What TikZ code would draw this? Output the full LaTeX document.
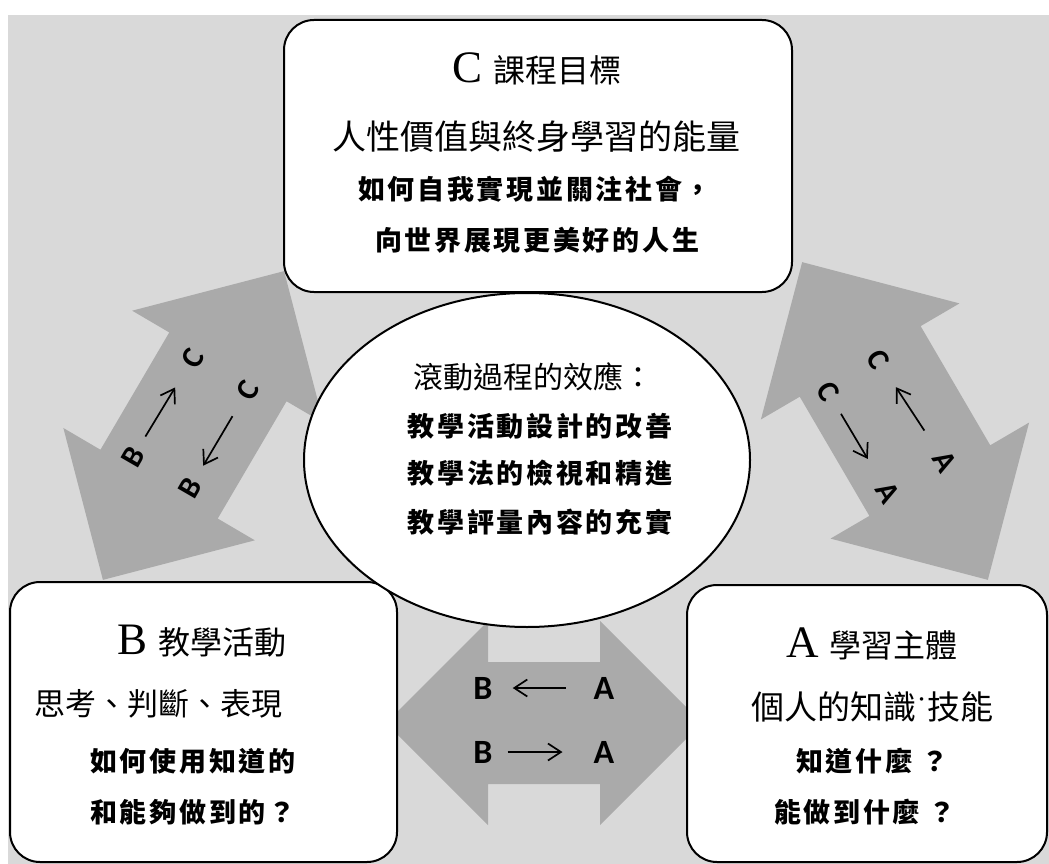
\documentclass[tikz,border=0pt]{standalone}
\usepackage{fontspec}
\usetikzlibrary{shapes.geometric,arrows.meta}
\setmainfont{Liberation Serif}
\newfontfamily\cjk{Noto Sans CJK TC}
\newfontfamily\cjkk[LetterSpace=10]{Noto Sans CJK TC}
\newfontfamily\sansb{Carlito}
\newfontfamily\dotfont{Liberation Serif}
\definecolor{bggray}{RGB}{217,217,217}
\definecolor{argray}{RGB}{170,170,170}
\newcommand\dblarrow[7]{%
  \fill[argray, shift={(#1,#2)}, rotate=#3]
    (-#4,0) -- (-#4+#5,#6) -- (-#4+#5,#7) -- (#4-#5,#7) -- (#4-#5,#6) -- (#4,0)
    -- (#4-#5,-#6) -- (#4-#5,-#7) -- (-#4+#5,-#7) -- (-#4+#5,-#6) -- cycle;}
\begin{document}
\begin{tikzpicture}[x=1pt,y=-1pt,
  box/.style={draw=black, line width=2pt, fill=white, rounded corners=30pt, inner sep=0pt},
  oval/.style={draw=black, line width=2pt, fill=white, ellipse, inner sep=0pt},
  ttl/.style={inner sep=0pt, anchor=base},
  lt/.style={inner sep=0pt, font=\sansb\bfseries\fontsize{34}{34}\selectfont},
  dlt/.style={inner sep=0pt, font=\sansb\bfseries\fontsize{31}{31}\selectfont},
  ln/.style={inner sep=0pt, font=\cjk\fontsize{33}{33}\selectfont},
  kai/.style={inner sep=0pt, font=\cjkk\bfseries\fontsize{27}{27}\selectfont},
  sa/.style={line width=1.7pt, -{Straight Barb[length=13pt,width=17pt]}}
]
\useasboundingbox (0,0) rectangle (1049,864);
\fill[bggray] (8,15) rectangle (1049,864);

% double arrows
\dblarrow{544}{723}{0}{158}{102}{102}{61}
\dblarrow{193.5}{425.5}{59.6}{179}{111}{111}{68}
\dblarrow{895}{421}{-59.7}{184}{115}{115}{70}

% boxes
\node[box, minimum width=508, minimum height=272] (C) at (538,156) {};
\node[box, minimum width=387, minimum height=280] (B) at (203.5,722) {};
\node[box, minimum width=360, minimum height=277] (A) at (867,723.5) {};
\node[oval, minimum width=446, minimum height=334] (E) at (527,460) {};

% C box text
\node[ttl] (Ct) at (537,83) {{\fontsize{45}{45}\selectfont C}\hspace{10pt}{\cjk\fontsize{32}{32}\selectfont 課程目標}};
\node[ln, font=\cjk\fontsize{34}{34}\selectfont] (C1) at (536,137) {人性價值與終身學習的能量};
\node[kai] (C2) at (535,189) {如何自我實現並關注社會，};
\node[kai] (C3) at (537,240) {向世界展現更美好的人生};

% ellipse text
\node[ln, font=\cjk\fontsize{30}{30}\selectfont] (E0) at (533,377) {滾動過程的效應：};
\node[kai] (E1) at (540,426) {教學活動設計的改善};
\node[kai] (E2) at (540,473) {教學法的檢視和精進};
\node[kai] (E3) at (540,522) {教學評量內容的充實};

% B box text
\node[ttl] (Bt) at (202,654) {{\fontsize{45}{45}\selectfont B}\hspace{10pt}{\cjk\fontsize{32}{32}\selectfont 教學活動}};
\node[ln, font=\cjk\fontsize{31}{31}\selectfont] (B1) at (158,704) {思考、判斷、表現};
\node[kai, anchor=west] (B2) at (90,761) {如何使用知道的};
\node[kai, anchor=west] (B3) at (90,812) {和能夠做到的？};

% A box text
\node[ln] (A1) at (872,707) {個人的知識{\dotfont ˙}技能};
\node[ttl] (At) at (872,657) {{\fontsize{45}{45}\selectfont A}\hspace{10pt}{\cjk\fontsize{32}{32}\selectfont 學習主體}};
\node[kai] (A2) at (872,761) {知道什麼 ？};
\node[kai] (A3) at (865,812) {能做到什麼 ？};

% horizontal arrow letters
\node[lt] (hb1) at (483,688) {B};
\node[lt] (ha1) at (604,688) {A};
\node[lt] (hb2) at (483,752) {B};
\node[lt] (ha2) at (604,752) {A};
\draw[sa, shorten <=28pt, shorten >=20pt] (ha1) -- (hb1);
\draw[sa, shorten <=15pt, shorten >=31pt] (hb2) -- (ha2);

% left diagonal letters (B-C)
\node[dlt, rotate=60] (lb1) at (133,457) {B};
\node[dlt, rotate=60] (lc1) at (193,358) {C};
\node[dlt, rotate=60] (lb2) at (190,488) {B};
\node[dlt, rotate=60] (lc2) at (248,390) {C};
\draw[sa, shorten <=15pt, shorten >=26pt] (lb1) -- (lc1);
\draw[sa, shorten <=22pt, shorten >=17pt] (lc2) -- (lb2);

% right diagonal letters (C-A)
\node[dlt, rotate=-60] (rc1) at (878,360) {C};
\node[dlt, rotate=-60] (ra1) at (945,462) {A};
\node[dlt, rotate=-60] (rc2) at (828,392) {C};
\node[dlt, rotate=-60] (ra2) at (888,493) {A};
\draw[sa, shorten <=28pt, shorten >=24pt] (ra1) -- (rc1);
\draw[sa, shorten <=17pt, shorten >=30pt] (rc2) -- (ra2);
\end{tikzpicture}
\end{document}
